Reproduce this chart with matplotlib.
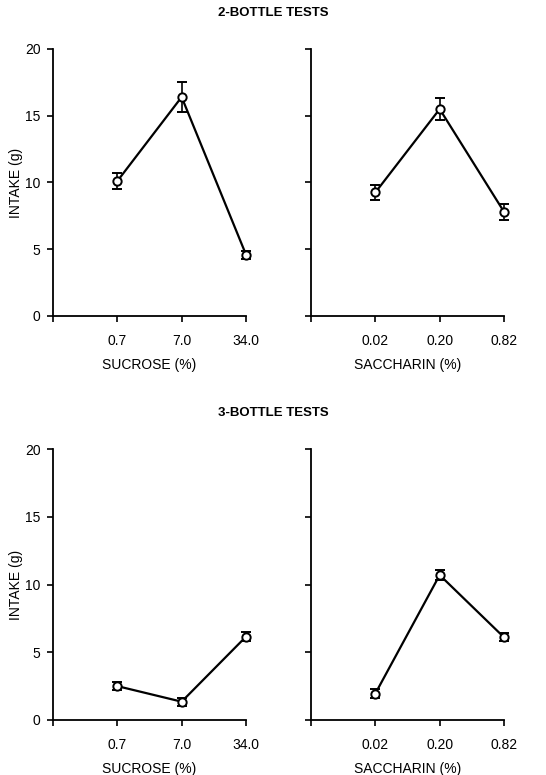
import matplotlib.pyplot as plt

plt.rcParams['font.family'] = ['Liberation Sans', 'DejaVu Sans']

sucrose_labels = ['0.7', '7.0', '34.0']
saccharin_labels = ['0.02', '0.20', '0.82']
x_pos = [1, 2, 3]

two_sucrose = [10.1, 16.4, 4.6]
two_sucrose_err = [0.6, 1.15, 0.3]
two_saccharin = [9.25, 15.5, 7.8]
two_saccharin_err = [0.55, 0.8, 0.6]

three_sucrose = [2.5, 1.35, 6.15]
three_sucrose_err = [0.3, 0.3, 0.35]
three_saccharin = [1.95, 10.7, 6.1]
three_saccharin_err = [0.35, 0.35, 0.3]

fig = plt.figure(figsize=(5.46, 7.75), dpi=100)

panels = [
    ([0.097, 0.5923, 0.3535, 0.3445], two_sucrose, two_sucrose_err, sucrose_labels, 'SUCROSE (%)', True),
    ([0.5696, 0.5923, 0.3535, 0.3445], two_saccharin, two_saccharin_err, saccharin_labels, 'SACCHARIN (%)', False),
    ([0.097, 0.071, 0.3535, 0.3496], three_sucrose, three_sucrose_err, sucrose_labels, 'SUCROSE (%)', True),
    ([0.5696, 0.071, 0.3535, 0.3496], three_saccharin, three_saccharin_err, saccharin_labels, 'SACCHARIN (%)', False),
]

for rect, vals, errs, labels, xlabel, left in panels:
    ax = fig.add_axes(rect)
    line, caps, bars = ax.errorbar(x_pos, vals, yerr=errs, color='black', lw=1.6, marker='o',
                                   ms=6, mfc='white', mec='black', mew=1.4, capsize=3.5,
                                   elinewidth=1.2, capthick=1.2, zorder=3)
    line.set_clip_on(False)
    for c in caps:
        c.set_clip_on(False)
    for b in bars:
        b.set_clip_on(False)
    ax.set_xlim(0, 3)
    ax.set_ylim(0, 20)
    ax.set_xticks([0] + x_pos)
    ax.set_xticklabels([''] + labels, fontsize=10)
    ax.set_yticks([0, 5, 10, 15, 20])
    if left:
        ax.set_yticklabels(['0', '5', '10', '15', '20'], fontsize=10)
        ax.set_ylabel('INTAKE (g)', fontsize=10, labelpad=1)
    else:
        ax.set_yticklabels([])
    ax.set_xlabel(xlabel, fontsize=10, labelpad=7)
    ax.spines['top'].set_visible(False)
    ax.spines['right'].set_visible(False)
    ax.spines['left'].set_linewidth(1.3)
    ax.spines['bottom'].set_linewidth(1.3)
    ax.tick_params(axis='x', direction='out', length=4, width=1.2, pad=9)
    ax.tick_params(axis='y', direction='out', length=4, width=1.2, pad=5)

fig.text(0.5, 0.983, '2-BOTTLE TESTS', ha='center', va='center', fontsize=9.5, fontweight='bold')
fig.text(0.5, 0.467, '3-BOTTLE TESTS', ha='center', va='center', fontsize=9.5, fontweight='bold')

fig.savefig('out.png', dpi=100)
